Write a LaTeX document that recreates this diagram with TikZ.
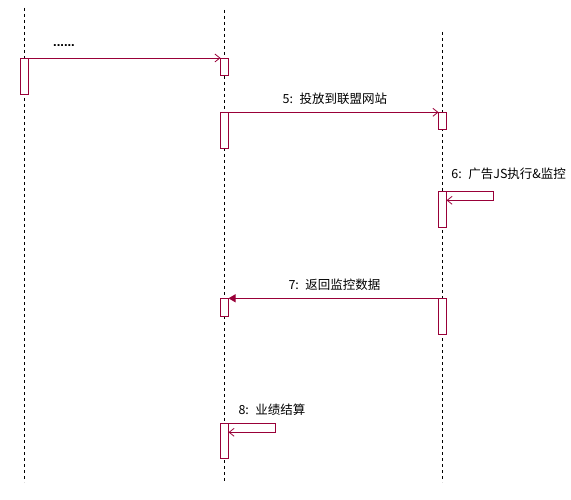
\documentclass[tikz,border=0pt]{standalone}
\usepackage{fontspec}
\setmainfont{Noto Sans CJK SC}
\newfontfamily\dotfont{Liberation Sans}
\usetikzlibrary{arrows.meta}
\definecolor{msg}{HTML}{990038}
\tikzset{
  lifeline/.style={draw=black, line width=0.9pt, dash pattern=on 3pt off 3pt},
  actbox/.style={draw=msg, fill=white, line width=0.9pt, rectangle, minimum width=8pt, inner sep=0pt, outer sep=0pt, anchor=north},
  syncmsg/.style={draw=msg, line width=0.9pt, -{Straight Barb[length=5pt,width=8pt,line width=0.8pt]}},
  retmsg/.style={draw=msg, line width=0.9pt, -{Triangle[length=7pt,width=8pt]}},
  msglabel/.style={font=\fontsize{12.5pt}{14pt}\selectfont, inner sep=0pt, text=black, anchor=west}
}
\newcommand{\msgnum}[1]{#1:\hspace{6.5pt}}
\begin{document}
\begin{tikzpicture}[x=1pt,y=-1pt]
\useasboundingbox (0,0) rectangle (571,500);
% lifelines
\coordinate (l1t) at (24.5,8);  \coordinate (l1b) at (24.5,482);
\coordinate (l2t) at (224.5,10); \coordinate (l2b) at (224.5,482);
\coordinate (l3t) at (442.5,32); \coordinate (l3b) at (442.5,482);
\draw[lifeline] (l1t) -- (l1b);
\draw[lifeline] (l2t) -- (l2b);
\draw[lifeline] (l3t) -- (l3b);
% activation boxes
\node[actbox, minimum height=36pt] (a1) at (24.5,58) {};
\node[actbox, minimum height=17pt] (b1) at (224.5,58) {};
\node[actbox, minimum height=36pt] (b2) at (224.5,112.3) {};
\node[actbox, minimum height=17pt] (c1) at (442.5,112.3) {};
\node[actbox, minimum height=36pt] (c2) at (442.5,191.3) {};
\node[actbox, minimum height=36pt] (c3) at (442.5,298.3) {};
\node[actbox, minimum height=18.4pt] (b3) at (224.5,298.3) {};
\node[actbox, minimum height=35pt] (b4) at (224.5,423.3) {};
% messages
\draw[syncmsg] (a1.north east) -- (b1.north west);
\node[font=\dotfont\bfseries\fontsize{13pt}{15pt}\selectfont, inner sep=0pt, anchor=base] (dots) at (64,46.5) {......};
\draw[syncmsg] (b2.north east) -- (c1.north west);
\node[msglabel] (t5) at (282.5,99) {\msgnum{5}投放到联盟网站};
% self message 6
\coordinate (s6a) at (493.3,191.3);
\coordinate (s6b) at (493.3,200.3);
\coordinate (s6e) at (c2.east |- s6b);
\draw[syncmsg] (c2.north east) -- (s6a) -- (s6b) -- (s6e);
\node[msglabel] (t6) at (451.2,174) {\msgnum{6}广告JS执行\&监控};
% message 7
\draw[retmsg] (c3.north west) -- (b3.north east);
\node[msglabel] (t7) at (288.3,285) {\msgnum{7}返回监控数据};
% self message 8
\coordinate (s8a) at (275.7,423.3);
\coordinate (s8b) at (275.7,432.3);
\coordinate (s8e) at (b4.east |- s8b);
\draw[syncmsg] (b4.north east) -- (s8a) -- (s8b) -- (s8e);
\node[msglabel] (t8) at (238.3,410) {\msgnum{8}业绩结算};
\end{tikzpicture}
\end{document}
